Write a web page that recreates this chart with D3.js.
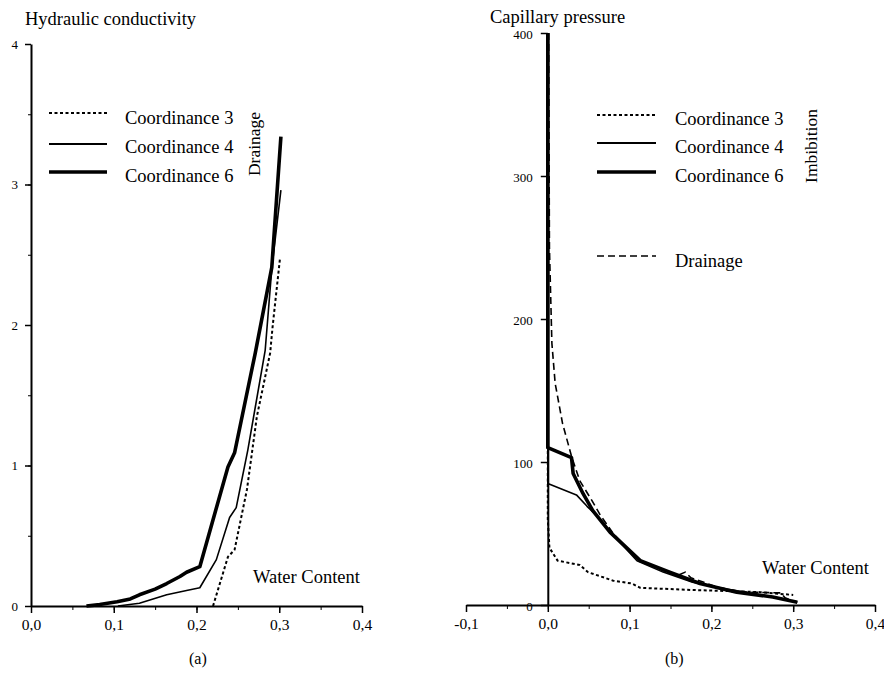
<!DOCTYPE html>
<html lang="en">
    <head>
        <meta charset="utf-8">
        <title>Conductivity and capillary pressure</title>
        <script type="text/javascript" src="https://cdnjs.cloudflare.com/ajax/libs/d3/7.8.5/d3.min.js"></script>
        <style>
            body { margin: 0; background: #fff; }
            svg { display: block; font-family: "Liberation Serif", "DejaVu Serif", serif; }
            .axis path, .axis line { stroke: #000; }
            .axis text { fill: #000; font-family: "Liberation Serif", serif; }
        </style>
    </head>
    <body>
        <div id="plot"></div>
        <script type="text/javascript">
            // ---- panel (a): hydraulic conductivity vs water content ----
            var condTicksX = [0, 0.1, 0.2, 0.3, 0.4];
            var condTicksY = [0, 1, 2, 3, 4];
            var cond3 = [[0.22,0],[0.238,0.35],[0.246,0.4],[0.261,0.83],[0.273,1.35],[0.289,1.8],[0.292,1.99],[0.301,2.48]];
            var cond4 = [[0.105,0],[0.131,0.02],[0.164,0.08],[0.188,0.11],[0.204,0.13],[0.224,0.33],[0.24,0.63],[0.248,0.7],[0.262,1.11],[0.283,1.82],[0.291,2.4],[0.302,2.96]];
            var cond6 = [[0.067,0],[0.083,0.01],[0.104,0.03],[0.12,0.05],[0.131,0.08],[0.15,0.12],[0.164,0.16],[0.18,0.21],[0.188,0.24],[0.204,0.28],[0.238,0.99],[0.246,1.09],[0.271,1.8],[0.291,2.41],[0.302,3.34]];

            // ---- panel (b): capillary pressure vs water content ----
            var presTicksX = [-0.1, 0, 0.1, 0.2, 0.3, 0.4];
            var presTicksY = [0, 100, 200, 300, 400];
            var pres3 = [[0,400],[0,60],[0.002,40],[0.012,31],[0.039,28],[0.049,23],[0.08,17],[0.103,15],[0.113,12],[0.177,10.5],[0.26,9],[0.3,7]];
            var pres4 = [[0,400],[0,85],[0.035,77],[0.048,69],[0.064,60],[0.08,49],[0.109,31],[0.141,23],[0.177,16],[0.21,12],[0.243,8.5],[0.272,6],[0.305,2]];
            var pres6 = [[0,400],[0,110],[0.029,103],[0.031,92],[0.043,78],[0.055,66],[0.076,51],[0.113,31],[0.149,23],[0.186,15],[0.231,9],[0.275,5.6],[0.305,2]];
            var presDrain = [[0.001,400],[0.002,250],[0.005,183],[0.009,155],[0.018,127],[0.029,104],[0.039,87],[0.054,73],[0.064,63],[0.08,50],[0.109,32],[0.141,24],[0.16,21],[0.168,23],[0.175,19],[0.21,12],[0.243,9],[0.285,8.5],[0.29,5],[0.305,2]];

            var legendNames = ["Coordinance 3", "Coordinance 4", "Coordinance 6"];

            var width = 884;
            var height = 683;

            var styles = {
                c3: {w: 2, dash: "3,2.5"},
                c4: {w: 1.6, dash: null},
                c6: {w: 3.6, dash: null},
                dr: {w: 1.6, dash: "7,4"}
            };

            var svg = d3.select("#plot")
                .append("svg")
                .attr("width", width)
                .attr("height", height);

            // decimal comma, plain hyphen for negatives
            var comma = function(d){ return d.toFixed(1).replace(".", ","); };

            function minorTicks(lo, hi, step) {
                var out = [];
                for (var v = lo; v <= hi + 1e-9; v += step) out.push(+v.toFixed(3));
                return out;
            }

            function drawLine(g, data, x, y, st) {
                g.append("path")
                    .datum(data)
                    .attr("fill", "none")
                    .attr("stroke", "#000")
                    .attr("stroke-width", st.w)
                    .attr("stroke-dasharray", st.dash)
                    .attr("stroke-linejoin", "round")
                    .attr("d", d3.line().x(function(d){ return x(d[0]); }).y(function(d){ return y(d[1]); }));
            }

            function label(txt, x, y, size, rot) {
                var t = svg.append("text")
                    .attr("font-size", size)
                    .attr("fill", "#000")
                    .text(txt);
                if (rot) t.attr("transform", "translate(" + x + "," + y + ") rotate(-90)").attr("text-anchor", "middle");
                else t.attr("x", x).attr("y", y);
                return t;
            }

            function legend(x0, x1, xt, rows) {
                rows.forEach(function(r) {
                    svg.append("line")
                        .attr("x1", x0).attr("x2", x1)
                        .attr("y1", r.y).attr("y2", r.y)
                        .attr("stroke", "#000")
                        .attr("stroke-width", r.st.w)
                        .attr("stroke-dasharray", r.st.dash);
                    label(r.name, xt, r.ty, 18.5);
                });
            }

            // ===== panel (a) =====
            var xA = d3.scaleLinear().domain([0, 0.4]).range([31, 362]);
            var yA = d3.scaleLinear().domain([0, 4]).range([606, 44]);

            var gA = svg.append("g");
            // minor ticks
            gA.append("g").attr("class", "axis")
                .attr("transform", "translate(0,606)")
                .call(d3.axisBottom(xA).tickValues(minorTicks(0, 0.4, 0.05)).tickSize(4).tickFormat(""))
                .select(".domain").remove();
            gA.append("g").attr("class", "axis")
                .attr("transform", "translate(31,0)")
                .call(d3.axisLeft(yA).tickValues(minorTicks(0, 4, 0.5)).tickSize(3).tickFormat(""))
                .select(".domain").remove();
            // main axes
            gA.append("g").attr("class", "axis")
                .attr("transform", "translate(0,606)")
                .call(d3.axisBottom(xA).tickValues(condTicksX).tickSize(7).tickSizeOuter(0).tickPadding(6).tickFormat(comma))
                .call(function(g){ g.select(".domain").attr("stroke-width", 2); g.selectAll("line").attr("stroke-width", 1.5); g.selectAll("text").attr("font-size", 15.5); });
            gA.append("g").attr("class", "axis")
                .attr("transform", "translate(31,0)")
                .call(d3.axisLeft(yA).tickValues(condTicksY).tickSize(6).tickSizeOuter(0).tickPadding(7).tickFormat(d3.format("d")))
                .call(function(g){ g.select(".domain").attr("stroke-width", 2); g.selectAll("line").attr("stroke-width", 1.5); g.selectAll("text").attr("font-size", 13); });

            drawLine(gA, cond3, xA, yA, styles.c3);
            drawLine(gA, cond4, xA, yA, styles.c4);
            drawLine(gA, cond6, xA, yA, styles.c6);

            label("Hydraulic conductivity", 25, 25, 18.5);
            label("Water Content", 253, 583, 18.5);
            label("Drainage", 260, 144, 17.5, true);
            legend(49, 107, 125, [
                {name: legendNames[0], y: 113, ty: 124, st: styles.c3},
                {name: legendNames[1], y: 144, ty: 153, st: {w: 2, dash: null}},
                {name: legendNames[2], y: 172, ty: 182, st: styles.c6}
            ]);
            label("(a)", 189, 664, 16);

            // ===== panel (b) =====
            var xB = d3.scaleLinear().domain([-0.1, 0.4]).range([466, 875]);
            var yB = d3.scaleLinear().domain([0, 400]).range([605, 33]);

            var gB = svg.append("g");
            gB.append("g").attr("class", "axis")
                .attr("transform", "translate(0,605)")
                .call(d3.axisBottom(xB).tickValues(minorTicks(-0.1, 0.4, 0.05)).tickSize(4).tickFormat(""))
                .select(".domain").remove();
            gB.append("g").attr("class", "axis")
                .attr("transform", "translate(0,605)")
                .call(d3.axisBottom(xB).tickValues(presTicksX).tickSize(7).tickSizeOuter(0).tickPadding(6).tickFormat(comma))
                .call(function(g){ g.select(".domain").attr("stroke-width", 2); g.selectAll("line").attr("stroke-width", 1.5); g.selectAll("text").attr("font-size", 15.5); });
            gB.append("g").attr("class", "axis")
                .attr("transform", "translate(" + xB(0) + ",0)")
                .call(d3.axisLeft(yB).tickValues(presTicksY).tickSize(7).tickSizeOuter(0).tickPadding(8).tickFormat(d3.format("d")))
                .call(function(g){ g.select(".domain").attr("stroke-width", 2); g.selectAll("line").attr("stroke-width", 1.5); g.selectAll("text").attr("font-size", 13).attr("dy", "0.45em"); });

            drawLine(gB, presDrain, xB, yB, styles.dr);
            drawLine(gB, pres3, xB, yB, styles.c3);
            drawLine(gB, pres4, xB, yB, styles.c4);
            drawLine(gB, pres6, xB, yB, styles.c6);

            label("Capillary pressure", 490, 23, 18.5);
            label("Water Content", 762, 574, 18.5);
            label("Imbibition", 817, 146, 17.5, true);
            legend(597, 656, 675, [
                {name: legendNames[0], y: 115, ty: 125, st: styles.c3},
                {name: legendNames[1], y: 143, ty: 153, st: {w: 2, dash: null}},
                {name: legendNames[2], y: 172, ty: 182, st: styles.c6},
                {name: "Drainage", y: 256, ty: 267, st: styles.dr}
            ]);
            label("(b)", 665, 664, 16);
        </script>
    </body>
</html>
